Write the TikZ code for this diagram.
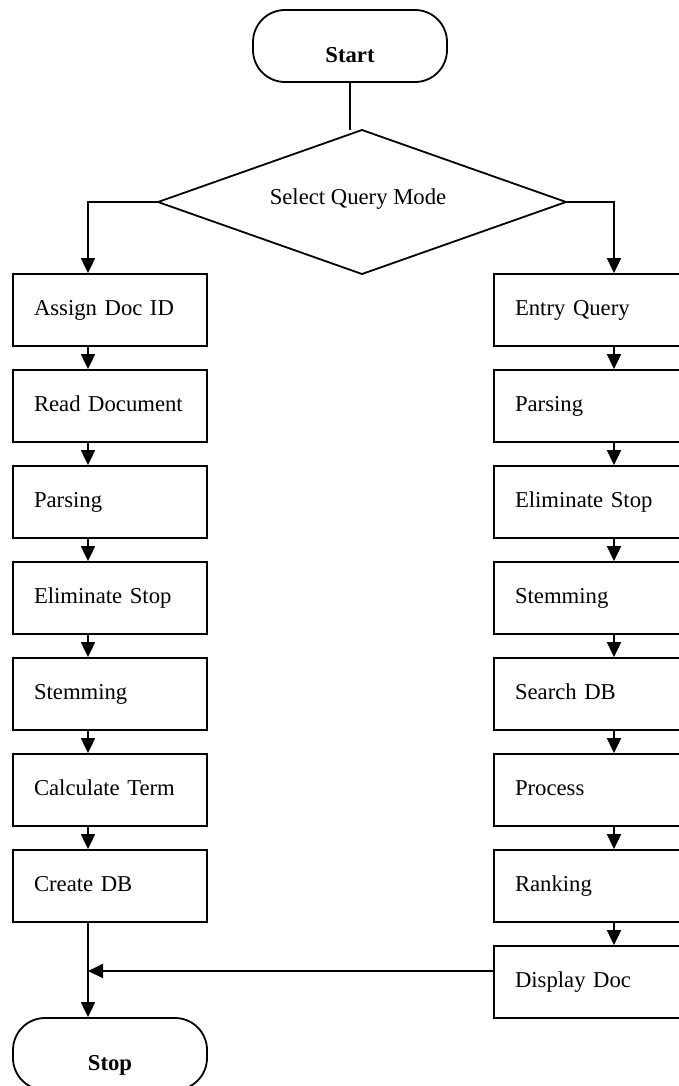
\documentclass[tikz,border=0pt]{standalone}
\usepackage{fontspec}
\setmainfont{Liberation Serif}
\usetikzlibrary{arrows.meta}
\begin{document}
\begin{tikzpicture}[x=1pt,y=-1pt,
  line width=1.8pt,
  every node/.style={font=\fontsize{22.7}{27}\selectfont},
  procbox/.style={draw, rectangle, minimum height=72pt, inner xsep=21pt, inner ysep=0pt, align=left, text height=16pt, text depth=5pt},
  lbox/.style={procbox, text width=152pt},
  rbox/.style={procbox, text width=198pt},
  term/.style={draw, rounded corners=32pt, minimum width=194pt, minimum height=72pt, font=\fontsize{22.7}{27}\selectfont\bfseries, text height=33pt, text depth=0pt, inner sep=0pt},
  arr/.style={-{Triangle[length=15pt,width=14pt]}},
]
\useasboundingbox (0,0) rectangle (678,1086);

\node[term] (start) at (350,46) {Start};

\coordinate (diaT) at (362,130);
\coordinate (diaR) at (566,202);
\coordinate (diaB) at (362,274);
\coordinate (diaL) at (158,202);
\draw[line join=miter] (diaT) -- (diaR) -- (diaB) -- (diaL) -- cycle;
\node[text height=10pt, text depth=5pt, inner sep=0pt] (dia) at (358,202) {Select Query Mode};

\node[lbox] (l1) at (110,310) {Assign Doc ID};
\node[lbox] (l2) at (110,406) {Read Document};
\node[lbox] (l3) at (110,502) {Parsing};
\node[lbox] (l4) at (110,598) {Eliminate Stop};
\node[lbox] (l5) at (110,694) {Stemming};
\node[lbox] (l6) at (110,790) {Calculate Term};
\node[lbox] (l7) at (110,886) {Create DB};

\node[rbox] (r1) at (614,310) {Entry Query};
\node[rbox] (r2) at (614,406) {Parsing};
\node[rbox] (r3) at (614,502) {Eliminate Stop};
\node[rbox] (r4) at (614,598) {Stemming};
\node[rbox] (r5) at (614,694) {Search DB};
\node[rbox] (r6) at (614,790) {Process};
\node[rbox] (r7) at (614,886) {Ranking};
\node[rbox] (r8) at (614,982) {Display Doc};

\node[term] (stop) at (110,1054) {Stop};

\draw (start.south) -- (start.south |- diaT);
\draw[arr] (diaL) -| ([xshift=-22pt]l1.north);
\draw[arr] (diaR) -| (r1.north);

\foreach \a/\b in {l1/l2,l2/l3,l3/l4,l4/l5,l5/l6,l6/l7}
  \draw[arr] ([xshift=-22pt]\a.south) -- ([xshift=-22pt]\b.north);
\foreach \a/\b in {r1/r2,r2/r3,r3/r4,r4/r5,r5/r6,r6/r7,r7/r8}
  \draw[arr] (\a.south) -- (\b.north);

\coordinate (lc) at ([xshift=-22pt]stop.north);
\draw[arr] ([xshift=-22pt]l7.south) -- (lc);
\coordinate (rj) at ([yshift=11pt]r8.west);
\draw[arr] (rj) -- (rj -| lc);
\end{tikzpicture}
\end{document}
